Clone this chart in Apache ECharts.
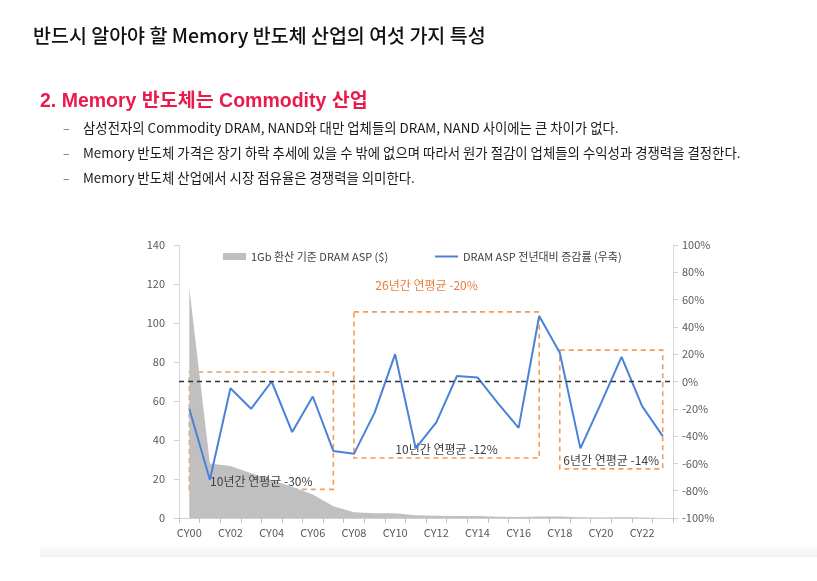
<!DOCTYPE html>
<html>
<head>
<meta charset="utf-8">
<script src="https://cdn.jsdelivr.net/npm/echarts@6/dist/echarts.min.js"></script>
<style>
  html, body { margin: 0; padding: 0; background: #fff; }
  #chart { width: 817px; height: 581px; }
</style>
</head>
<body>
<div id="chart"></div>
<script>
var categories = ['CY00','CY01','CY02','CY03','CY04','CY05','CY06','CY07','CY08','CY09','CY10','CY11',
                  'CY12','CY13','CY14','CY15','CY16','CY17','CY18','CY19','CY20','CY21','CY22','CY23'];
// 1Gb 환산 기준 DRAM ASP ($)
var aspValues = [118, 28, 26.7, 23, 19.5, 16, 12, 6, 3, 2.4, 2.4, 1.4,
                 1.1, 1.0, 1.0, 0.6, 0.5, 0.8, 0.8, 0.4, 0.3, 0.4, 0.3, 0.3];
// DRAM ASP 전년대비 증감률 (%)
var growthValues = [-20, -72, -5, -20, 0, -37, -11, -51, -53, -23, 20, -49,
                    -30, 4, 3, -16, -34, 48, 21, -49, -16, 18, -18, -40];
var leftTicks = [0, 140, 20];
var rightTicks = [-100, 100, 20];
var bullets = [
    '삼성전자의 Commodity DRAM, NAND와 대만 업체들의 DRAM, NAND 사이에는 큰 차이가 없다.',
    'Memory 반도체 가격은 장기 하락 추세에 있을 수 밖에 없으며 따라서 원가 절감이 업체들의 수익성과 경쟁력을 결정한다.',
    'Memory 반도체 산업에서 시장 점유율은 경쟁력을 의미한다.'
];
// 구간 박스: [시작, 끝, 위(%), 아래(%), 라벨]
var periods = [
    ['CY00', 'CY07', 7, -79, '10년간 연평균 -30%'],
    ['CY08', 'CY17', 51, -56, '10년간 연평균 -12%'],
    ['CY18', 'CY23', 23, -64, '6년간 연평균 -14%']
];
var overallLabel = '26년간 연평균 -20%';

var chart = echarts.init(document.getElementById('chart'));

var KR = '"Noto Sans CJK KR", "Noto Sans", sans-serif';
var boxStyle = {
    color: 'rgba(0,0,0,0)',
    borderColor: '#f59b55',
    borderWidth: 1.6,
    borderType: [5, 4]
};

var areaData = periods.map(function (p) {
    return [
        { xAxis: p[0], yAxis: p[2], itemStyle: boxStyle,
          label: { show: true, position: 'insideBottom', distance: 3, formatter: p[4],
                   color: '#404040', fontSize: 12, fontFamily: KR } },
        { xAxis: p[1], yAxis: p[3] }
    ];
});
// 전체 기간 라벨 (두번째 박스 위)
areaData.push([
    { xAxis: periods[1][0], yAxis: periods[1][2],
      itemStyle: { color: 'rgba(0,0,0,0)', borderWidth: 0 },
      label: { show: true, position: 'top', distance: 20, offset: [-20, 0], formatter: overallLabel,
               color: '#e97d3c', fontSize: 12, fontFamily: KR } },
    { xAxis: periods[1][1], yAxis: periods[1][3] }
]);

var graphics = [
    { type: 'text', x: 33, y: 36,
      style: { text: '반드시 알아야 할 Memory 반도체 산업의 여섯 가지 특성', fill: '#111',
               font: '500 19.5px ' + KR, textVerticalAlign: 'middle' } },
    { type: 'text', x: 40, y: 102,
      style: { text: '2. Memory 반도체는 Commodity 산업', fill: '#ea1a4c',
               font: 'bold 19.5px "Liberation Sans", "Noto Sans CJK KR", sans-serif', textVerticalAlign: 'middle' } },
    { type: 'rect', shape: { x: 40, y: 543, width: 777, height: 14 },
      style: { fill: new echarts.graphic.LinearGradient(0, 0, 0, 1, [
          { offset: 0, color: 'rgba(0,0,0,0)' }, { offset: 1, color: 'rgba(0,0,0,0.05)' }]) } }
];
bullets.forEach(function (b, i) {
    graphics.push({ type: 'text', x: 63, y: 128 + i * 25,
        style: { text: '–', fill: '#3a66b0', font: '12px ' + KR, textVerticalAlign: 'middle' } });
    graphics.push({ type: 'text', x: 83, y: 128 + i * 25,
        style: { text: b, fill: '#1a1a1a', font: '13.4px ' + KR, textVerticalAlign: 'middle' } });
});

var option = {
    animation: false,
    backgroundColor: '#fff',
    textStyle: { fontFamily: KR },
    graphic: graphics,
    legend: [
        { left: 218, top: 246, itemWidth: 23, itemHeight: 7, itemGap: 5,
          data: [{ name: '1Gb 환산 기준 DRAM ASP ($)', icon: 'rect' }],
          textStyle: { fontSize: 11, color: '#404040', fontFamily: KR } },
        { left: 430, top: 246, itemWidth: 23, itemHeight: 2,
          data: [{ name: 'DRAM ASP 전년대비 증감률 (우축)', icon: 'rect' }],
          textStyle: { fontSize: 11, color: '#404040', fontFamily: KR } }
    ],
    grid: { left: 179, right: 144, top: 245, bottom: 63 },
    xAxis: {
        type: 'category',
        data: categories,
        boundaryGap: true,
        axisLine: { lineStyle: { color: '#d0d0d0' } },
        axisTick: { show: true, interval: 0, length: 5, lineStyle: { color: '#c0c0c0' } },
        axisLabel: { interval: 1, color: '#595959', fontSize: 11, margin: 9 }
    },
    yAxis: [
        { type: 'value', min: leftTicks[0], max: leftTicks[1], interval: leftTicks[2],
          axisLine: { show: true, lineStyle: { color: '#d9d9d9' } },
          axisTick: { show: true, length: 5, lineStyle: { color: '#d0d0d0' } },
          splitLine: { show: false },
          axisLabel: { color: '#595959', fontSize: 11, margin: 14 } },
        { type: 'value', min: rightTicks[0], max: rightTicks[1], interval: rightTicks[2],
          position: 'right',
          axisLine: { show: true, lineStyle: { color: '#d9d9d9' } },
          axisTick: { show: true, length: 5, lineStyle: { color: '#d0d0d0' } },
          splitLine: { show: false },
          axisLabel: { formatter: '{value}%', color: '#595959', fontSize: 11, margin: 9 } }
    ],
    series: [
        {
            name: '1Gb 환산 기준 DRAM ASP ($)',
            type: 'line',
            yAxisIndex: 0,
            data: aspValues,
            symbol: 'none',
            itemStyle: { color: '#bfbfbf' },
            lineStyle: { width: 0 },
            areaStyle: { color: '#c0c0c0', opacity: 1 },
            z: 1
        },
        {
            name: 'DRAM ASP 전년대비 증감률 (우축)',
            type: 'line',
            yAxisIndex: 1,
            data: growthValues,
            symbol: 'none',
            itemStyle: { color: '#4a82d8' },
            lineStyle: { color: '#4a82d8', width: 2 },
            z: 3,
            markLine: {
                silent: true,
                symbol: 'none',
                label: { show: false },
                lineStyle: { color: '#333', type: [5, 4], width: 1.4 },
                data: [{ yAxis: 0 }]
            },
            markArea: {
                silent: true,
                data: areaData
            }
        }
    ]
};
chart.setOption(option);
</script>
</body>
</html>
